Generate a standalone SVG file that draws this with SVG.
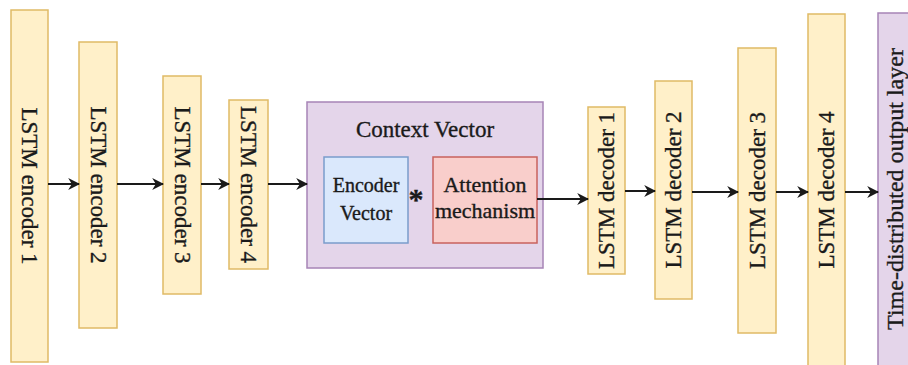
<svg xmlns="http://www.w3.org/2000/svg" width="908" height="365" viewBox="0 0 908 365">
<defs>
<style>
.y{fill:#FFF0C9;stroke:#E0BA66;stroke-width:1.5}
.p{fill:#E4D5EA;stroke:#A784B6;stroke-width:1.5}
.b{fill:#DAE8FC;stroke:#7A9CCB;stroke-width:1.5}
.r{fill:#F9CECB;stroke:#C8625E;stroke-width:1.5}
text{font-family:"Liberation Serif","Times New Roman",serif;fill:#1a1a1a;stroke:#1a1a1a;stroke-width:0.35}
.v{font-size:23px;text-anchor:middle;dominant-baseline:central}
.c{text-anchor:middle}
.ln{stroke:#1a1a1a;stroke-width:2;fill:none;marker-end:url(#ah)}
</style>
<marker id="ah" viewBox="0 0 10 10" refX="9" refY="5" markerWidth="12" markerHeight="12" markerUnits="userSpaceOnUse" orient="auto">
<path d="M0,0 L10,5 L0,10 L3,5 Z" fill="#1a1a1a"/>
</marker>
</defs>
<g id="enc1"><rect class="y" x="11" y="10" width="37" height="352"/><text class="v" transform="translate(29.5,186) rotate(90)">LSTM encoder 1</text></g>
<g id="enc2"><rect class="y" x="79" y="42" width="38" height="286"/><text class="v" transform="translate(98,185) rotate(90)">LSTM encoder 2</text></g>
<g id="enc3"><rect class="y" x="163" y="76" width="38" height="218"/><text class="v" transform="translate(182,185) rotate(90)">LSTM encoder 3</text></g>
<g id="enc4"><rect class="y" x="229" y="100" width="39" height="169"/><text class="v" transform="translate(248.5,184.5) rotate(90)">LSTM encoder 4</text></g>
<g id="context">
<rect class="p" x="307" y="102" width="236" height="166"/>
<text class="c" x="425" y="137" font-size="23">Context Vector</text>
</g>
<g id="encvec">
<rect class="b" x="324" y="157" width="84" height="86"/>
<text class="c" x="366" y="192" font-size="20">Encoder</text>
<text class="c" x="366" y="220" font-size="20">Vector</text>
</g>
<g id="mult"><text class="c" x="416" y="209" font-size="30" font-weight="bold">*</text></g>
<g id="attn">
<rect class="r" x="433" y="157" width="104" height="86"/>
<text class="c" x="485" y="192" font-size="22">Attention</text>
<text class="c" x="485" y="218" font-size="22">mechanism</text>
</g>
<g id="dec1"><rect class="y" x="588" y="107" width="37" height="167"/><text class="v" transform="translate(606.5,190.5) rotate(-90)">LSTM decoder 1</text></g>
<g id="dec2"><rect class="y" x="655" y="81" width="37" height="218"/><text class="v" transform="translate(673.5,190) rotate(-90)">LSTM decoder 2</text></g>
<g id="dec3"><rect class="y" x="738" y="48" width="38" height="285"/><text class="v" transform="translate(757,190.5) rotate(-90)">LSTM decoder 3</text></g>
<g id="dec4"><rect class="y" x="808" y="14" width="37" height="360"/><text class="v" transform="translate(826.5,190) rotate(-90)">LSTM decoder 4</text></g>
<g id="output"><rect class="p" x="878" y="13" width="44" height="360"/><text class="v" style="font-size:24px" transform="translate(895,189) rotate(-90)">Time-distributed output layer</text></g>
<g id="connectors">
<line class="ln" x1="48" y1="184" x2="79" y2="184"/>
<line class="ln" x1="117" y1="184" x2="163" y2="184"/>
<line class="ln" x1="201" y1="184" x2="229" y2="184"/>
<line class="ln" x1="268" y1="184" x2="307" y2="184"/>
<line class="ln" x1="537" y1="199" x2="588" y2="199"/>
<line class="ln" x1="625" y1="191" x2="655" y2="191"/>
<line class="ln" x1="692" y1="192" x2="738" y2="192"/>
<line class="ln" x1="776" y1="192" x2="808" y2="192"/>
<line class="ln" x1="845" y1="192" x2="878" y2="192"/>
</g>
</svg>
